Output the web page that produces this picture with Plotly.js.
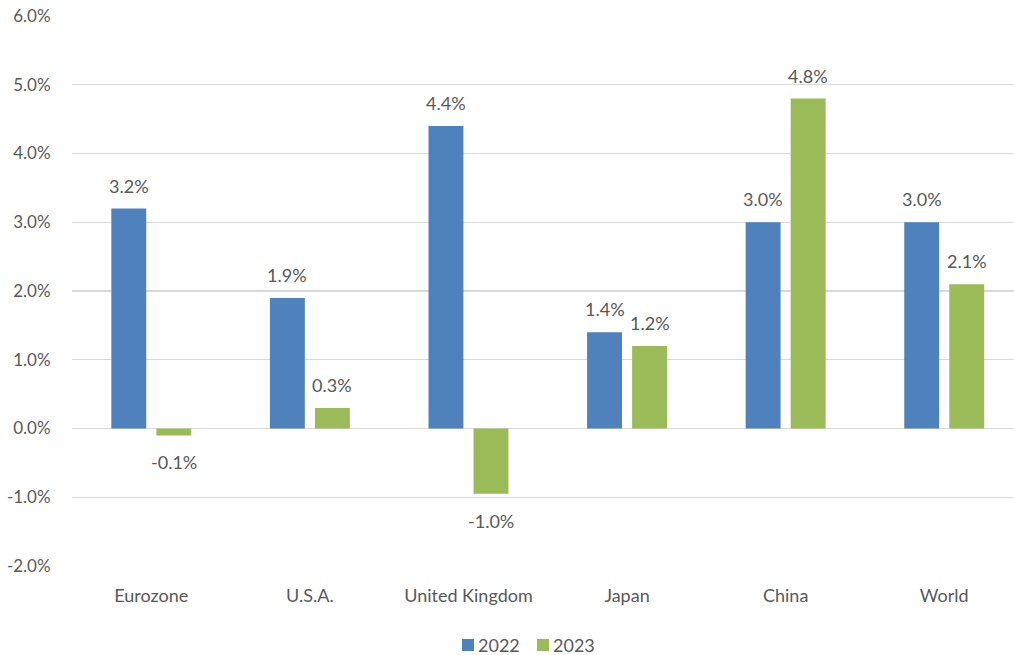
<!DOCTYPE html>
<html><head><meta charset="utf-8">
<script src="https://cdn.plot.ly/plotly-3.0.1.min.js"></script>
<style>html,body{margin:0;padding:0;background:#fff}#chart{width:1014px;height:655px}</style>
</head><body><div id="chart"></div>
<script>
const categories = ["Eurozone", "U.S.A.", "United Kingdom", "Japan", "China", "World"];
const seriesNames = ["2022", "2023"];
const values2022 = [3.2, 1.9, 4.4, 1.4, 3.0, 3.0];
const values2023 = [-0.1, 0.3, -0.95, 1.2, 4.8, 2.1];
const labels2022 = ["3.2%", "1.9%", "4.4%", "1.4%", "3.0%", "3.0%"];
const labels2023 = ["-0.1%", "0.3%", "-1.0%", "1.2%", "4.8%", "2.1%"];
const yTicks = [-2, -1, 0, 1, 2, 3, 4, 5, 6];
const yTickText = ["-2.0%", "-1.0%", "0.0%", "1.0%", "2.0%", "3.0%", "4.0%", "5.0%", "6.0%"];

const FONT = "Lato, 'Open Sans', sans-serif";
const colors = ["#4F81BD", "#9BBB59"];
const TXT = "#595959";

const W = 1014, H = 655;
const M = {l: 72, r: 0, t: 16, b: 89};
const PW = W - M.l - M.r, PH = H - M.t - M.b;
const px2x = p => (p - M.l) / PW;
const px2y = p => (H - M.b - p) / PH;

const traces = [
  {type: "bar", name: seriesNames[0], x: categories, y: values2022, marker: {color: colors[0]}, hoverinfo: "none"},
  {type: "bar", name: seriesNames[1], x: categories, y: values2023, marker: {color: colors[1]}, hoverinfo: "none"}
];

const annotations = [];
function addLabels(vals, labs, xs) {
  vals.forEach((v, i) => {
    annotations.push({
      x: categories[i], y: v, text: labs[i], showarrow: false,
      xshift: xs, yshift: v >= 0 ? 23 : -27, yanchor: "middle",
      font: {family: FONT, size: 18, color: TXT}
    });
  });
}
addLabels(values2022, labels2022, -22.5);
addLabels(values2023, labels2023, 22.5);

// manual legend
const shapes = [];
const legendStarts = [462, 537];
seriesNames.forEach((nm, k) => {
  const x0 = legendStarts[k];
  shapes.push({type: "rect", xref: "paper", yref: "paper",
    x0: px2x(x0), x1: px2x(x0 + 12), y0: px2y(651), y1: px2y(639),
    fillcolor: colors[k], line: {width: 0}});
  annotations.push({xref: "paper", yref: "paper", x: px2x(x0 + 15), y: px2y(644.5),
    xanchor: "left", yanchor: "middle", showarrow: false, text: nm, height: 18, valign: "middle", borderpad: 0,
    font: {family: FONT, size: 18, color: TXT}});
});

const layout = {
  width: W, height: H,
  margin: M,
  paper_bgcolor: "#fff", plot_bgcolor: "#fff",
  font: {family: FONT, size: 18, color: TXT},
  barmode: "group", bargap: 0.432, bargroupgap: 0.225,
  showlegend: false,
  xaxis: {type: "category", range: [-0.5, 5.44], showgrid: false, zeroline: false, showline: false,
          ticks: "outside", ticklen: 13, tickcolor: "rgba(0,0,0,0)", tickfont: {size: 18, color: TXT}},
  yaxis: {range: [-2, 6], tickvals: yTicks, ticktext: yTickText, showgrid: true, gridcolor: "#D9D9D9", gridwidth: 1.3,
          zeroline: true, zerolinecolor: "#D9D9D9", zerolinewidth: 1.3, showline: false,
          ticks: "outside", ticklen: 17, tickcolor: "rgba(0,0,0,0)", tickfont: {size: 17, color: TXT}},
  shapes: shapes,
  annotations: annotations
};

Plotly.newPlot("chart", traces, layout, {displayModeBar: false, staticPlot: true});
</script>
</body></html>
